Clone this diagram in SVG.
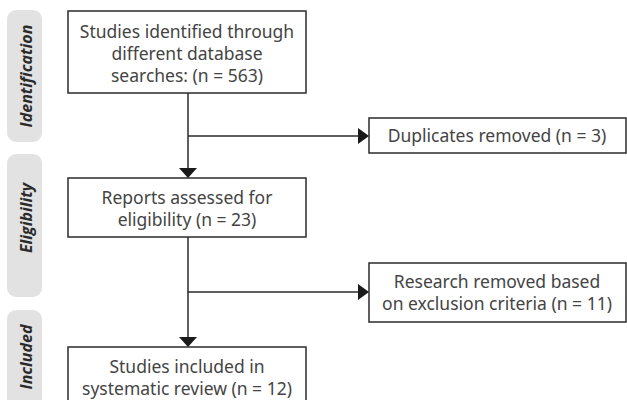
<svg xmlns="http://www.w3.org/2000/svg" width="627" height="400" viewBox="0 0 627 400">
<style>
.bg{fill:#fff}
.box{fill:#fff;stroke:#2b2b2b;stroke-width:1.5}
.t{font-family:"Noto Sans","Open Sans",sans-serif;font-size:17.5px;fill:#444;text-anchor:middle}
.tab{fill:#e2e2e2}
.tl{font-family:"Open Sans","Noto Sans",sans-serif;font-size:16px;font-weight:bold;font-style:italic;fill:#2b2b2b;text-anchor:middle}
.ln{stroke:#2b2b2b;stroke-width:1.5;fill:none}
.ah{fill:#1a1a1a}
</style>
<rect class="bg" x="0" y="0" width="627" height="400"/>
<g id="phase-identification">
<rect class="tab" x="7" y="10" width="35" height="132" rx="9"/>
<text class="tl" transform="translate(32,76) rotate(-90)">Identification</text>
</g>
<g id="phase-eligibility">
<rect class="tab" x="7" y="154" width="35" height="143" rx="9"/>
<text class="tl" transform="translate(32,218) rotate(-90)">Eligibility</text>
</g>
<g id="phase-included">
<rect class="tab" x="7" y="310" width="35" height="100" rx="9"/>
<text class="tl" transform="translate(32,357) rotate(-90)">Included</text>
</g>
<g id="connectors">
<path class="ln" d="M188 93 V169 M188 136 H360"/>
<path class="ln" d="M188 237 V337 M188 292 H360"/>
<polygon class="ah" points="179,168 197,168 188,178"/>
<polygon class="ah" points="179,337 197,337 188,347"/>
<polygon class="ah" points="358,128 369,136 358,144"/>
<polygon class="ah" points="358,284 369,292 358,300"/>
</g>
<g id="n1">
<rect class="box" x="68" y="11" width="238" height="82"/>
<text class="t" x="187" y="38">Studies identified through</text>
<text class="t" x="187" y="60">different database</text>
<text class="t" x="187" y="82">searches: (n = 563)</text>
</g>
<g id="n2">
<rect class="box" x="369" y="118" width="257" height="35"/>
<text class="t" x="497" y="142">Duplicates removed (n = 3)</text>
</g>
<g id="n3">
<rect class="box" x="68" y="178" width="238" height="59"/>
<text class="t" x="187" y="204">Reports assessed for</text>
<text class="t" x="187" y="226">eligibility (n = 23)</text>
</g>
<g id="n4">
<rect class="box" x="369" y="263" width="257" height="59"/>
<text class="t" x="497" y="288">Research removed based</text>
<text class="t" x="497" y="310">on exclusion criteria (n = 11)</text>
</g>
<g id="n5">
<rect class="box" x="68" y="347" width="238" height="60"/>
<text class="t" x="187" y="373">Studies included in</text>
<text class="t" x="187" y="395">systematic review (n = 12)</text>
</g>
</svg>
